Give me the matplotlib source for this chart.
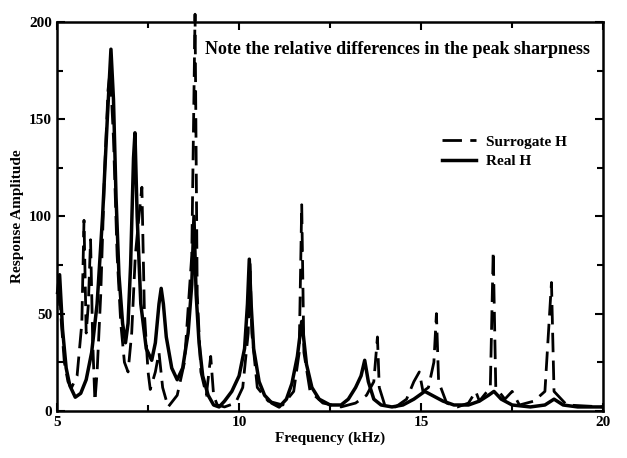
#!/usr/bin/env python3
# -*- coding: utf-8 -*-
import numpy as np
import matplotlib
matplotlib.use("Agg")
import matplotlib.pyplot as plt
from matplotlib.ticker import MultipleLocator

# Real H  (solid, broader peaks)
real_f = [5.0, 5.07, 5.15, 5.25, 5.35, 5.5, 5.65, 5.8, 5.95, 6.1, 6.25, 6.38, 6.48, 6.55,
          6.62, 6.7, 6.8, 6.88, 6.95, 7.02, 7.1, 7.14, 7.2, 7.3, 7.45, 7.6, 7.7, 7.8, 7.86,
          7.92, 8.0, 8.15, 8.3, 8.45, 8.6, 8.7, 8.76, 8.82, 8.9, 9.0, 9.15, 9.3, 9.45, 9.6,
          9.8, 10.0, 10.15, 10.23, 10.28, 10.33, 10.4, 10.55, 10.7, 10.9, 11.1, 11.3, 11.45,
          11.6, 11.68, 11.72, 11.77, 11.85, 12.0, 12.2, 12.5, 12.8, 13.0, 13.2, 13.35, 13.45,
          13.55, 13.7, 13.9, 14.2, 14.5, 14.8, 15.1, 15.3, 15.6, 15.9, 16.3, 16.6, 16.85,
          17.0, 17.2, 17.5, 18.0, 18.4, 18.65, 18.9, 19.3, 20.0]
real_a = [55, 70, 42, 22, 13, 7, 9, 16, 30, 55, 100, 150, 186, 160,
          110, 70, 45, 35, 45, 75, 130, 143, 100, 55, 32, 26, 35, 55, 63,
          55, 38, 22, 16, 22, 40, 65, 100, 60, 35, 18, 8, 3, 2, 5,
          10, 18, 32, 55, 78, 55, 32, 15, 8, 4, 2, 6, 14,
          28, 40, 46, 38, 24, 12, 6, 3, 3, 6, 12, 18, 26,
          15, 6, 3, 2, 3, 6, 10, 8, 5, 3, 3, 5, 8,
          10, 6, 3, 2, 3, 6, 3, 2, 2]

# Surrogate H  (dashed, sharp peaks)
sur_f = [5.0, 5.05, 5.12, 5.2, 5.3, 5.4, 5.55, 5.68, 5.74, 5.8, 5.86, 5.92, 5.98, 6.04,
         6.1, 6.2, 6.3, 6.4, 6.46, 6.55, 6.65, 6.75, 6.85, 6.95, 7.05, 7.15, 7.25, 7.33,
         7.4, 7.5, 7.56, 7.7, 7.8, 7.9, 8.05, 8.3, 8.5, 8.7, 8.79, 8.85, 8.95, 9.1, 9.22,
         9.3, 9.4, 9.6, 9.9, 10.1, 10.25, 10.3, 10.35, 10.5, 10.8, 11.2, 11.5, 11.65, 11.72,
         11.78, 11.95, 12.3, 12.8, 13.2, 13.5, 13.7, 13.8, 13.85, 14.0, 14.3, 14.6, 14.8,
         14.95, 15.05, 15.2, 15.35, 15.42, 15.48, 15.7, 16.0, 16.3, 16.5, 16.6, 16.9, 16.98,
         17.05, 17.3, 17.5, 17.7, 18.1, 18.4, 18.58, 18.65, 19.0, 20.0]
sur_a = [60, 68, 45, 25, 15, 12, 18, 45, 98, 40, 55, 88, 35, 5,
         20, 60, 120, 165, 175, 140, 80, 45, 25, 20, 40, 80, 100, 115,
         50, 20, 11, 20, 30, 12, 2, 8, 25, 80, 204, 60, 20, 8, 28,
         8, 3, 2, 4, 12, 40, 76, 40, 12, 5, 3, 10, 30, 106,
         30, 10, 4, 2, 4, 8, 15, 38, 12, 3, 2, 6, 15,
         20, 10, 12, 25, 50, 15, 4, 2, 4, 10, 5, 12, 82,
         12, 6, 10, 3, 5, 10, 66, 10, 3, 2]

plt.rcParams['font.family'] = ['Liberation Serif', 'DejaVu Serif']
plt.rcParams['font.weight'] = 'bold'

fig = plt.figure(figsize=(6.27, 4.58), dpi=100)
ax = fig.add_axes([0.091, 0.103, 0.871, 0.849])

ax.plot(sur_f, sur_a, color='black', lw=2.0, ls=(0, (7, 3)), label='Surrogate H', clip_on=False)
ax.plot(real_f, real_a, color='black', lw=2.5, ls='-', label='Real H')

ax.set_xlim(5, 20)
ax.set_ylim(0, 200)
ax.xaxis.set_major_locator(MultipleLocator(5))
ax.xaxis.set_minor_locator(MultipleLocator(2.5))
ax.yaxis.set_major_locator(MultipleLocator(50))
ax.yaxis.set_minor_locator(MultipleLocator(25))
ax.tick_params(which='both', direction='in', top=True, right=True, width=1.5, labelsize=11)
ax.tick_params(which='major', length=6)
ax.tick_params(which='minor', length=4)
for s in ax.spines.values():
    s.set_linewidth(1.8)

ax.set_xlabel("Frequency (kHz)", fontsize=11, fontweight='bold', labelpad=2)
ax.set_ylabel("Response Amplitude", fontsize=11, fontweight='bold')

ax.text(9.07, 186, "Note the relative differences in the peak sharpness", fontsize=13,
        fontweight='bold', va='center', ha='left')

ax.legend(loc='upper left', bbox_to_anchor=(0.68, 0.745), frameon=False, fontsize=11,
          handlelength=2.2, handletextpad=0.7, labelspacing=0.4)

fig.savefig("out.png", dpi=100)
